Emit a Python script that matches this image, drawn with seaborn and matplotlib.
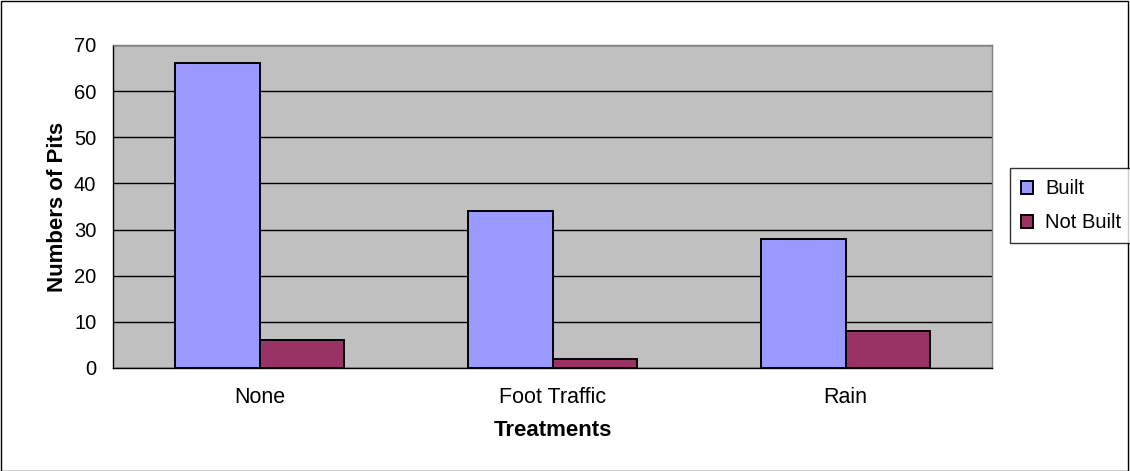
import matplotlib
matplotlib.use("Agg")
import matplotlib.pyplot as plt
import seaborn as sns
import pandas as pd
from matplotlib.patches import Rectangle

treatments = ["None", "Foot Traffic", "Rain"]
built = [66, 34, 28]
not_built = [6, 2, 8]
series_names = ["Built", "Not Built"]
y_ticks = [0, 10, 20, 30, 40, 50, 60, 70]

df = pd.DataFrame({
    "Treatment": treatments * 2,
    "Status": [series_names[0]] * 3 + [series_names[1]] * 3,
    "Pits": built + not_built,
})

sns.set_style("white")
plt.rcParams["font.family"] = ["Liberation Sans", "DejaVu Sans"]
plt.rcParams["text.color"] = "black"
plt.rcParams["axes.labelcolor"] = "black"
plt.rcParams["xtick.color"] = "black"
plt.rcParams["ytick.color"] = "black"

fig = plt.figure(figsize=(11.3, 4.71), dpi=100)
fig.patches.append(Rectangle((0.0005, 0.001), 0.998, 0.997, transform=fig.transFigure,
                             fill=False, edgecolor="black", linewidth=1.0))
ax = fig.add_axes([0.1, 0.2187, 0.7779, 0.6858])
ax.set_facecolor("#C0C0C0")

sns.barplot(data=df, x="Treatment", y="Pits", hue="Status", order=treatments,
            hue_order=series_names, palette=["#9999FF", "#993366"], saturation=1,
            width=0.574, gap=0, edgecolor="black", linewidth=1.4,
            errorbar=None, ax=ax, zorder=3)

ax.set_ylim(0, 70)
ax.set_xlim(-0.5, 2.5)
ax.set_yticks(y_ticks)
ax.yaxis.grid(True, color="black", linewidth=1.0, zorder=0)
ax.set_axisbelow(True)

# category separator ticks on the x axis
ax.set_xticks([0, 1, 2])
ax.set_xticks([-0.5, 0.5, 1.5, 2.5], minor=True)
ax.tick_params(axis="x", which="major", length=0, labelsize=15.5, pad=14)
ax.tick_params(axis="x", which="minor", length=5, width=1, color="#555555", direction="out")
ax.tick_params(axis="y", length=5, width=1, color="black", direction="out", labelsize=14.5, pad=7)

for side in ["top", "right"]:
    ax.spines[side].set_color("#808080")
    ax.spines[side].set_linewidth(1.0)
for side in ["left", "bottom"]:
    ax.spines[side].set_color("black")
    ax.spines[side].set_linewidth(1.0)

ax.set_xlabel("Treatments", fontsize=16, fontweight="bold", labelpad=8)
ax.set_ylabel("Numbers of Pits", fontsize=16, fontweight="bold", labelpad=4)

handles, labels = ax.get_legend_handles_labels()
ax.get_legend().remove()
leg = fig.legend(handles, labels, loc="upper left", bbox_to_anchor=(0.8938, 0.643),
                 frameon=True, fancybox=False, edgecolor="black", fontsize=14.5,
                 handlelength=0.6, handleheight=0.6, handletextpad=0.6,
                 labelspacing=0.75, borderpad=0.55, borderaxespad=0)
leg.get_frame().set_linewidth(1.0)

fig.savefig("out.png", dpi=100)
